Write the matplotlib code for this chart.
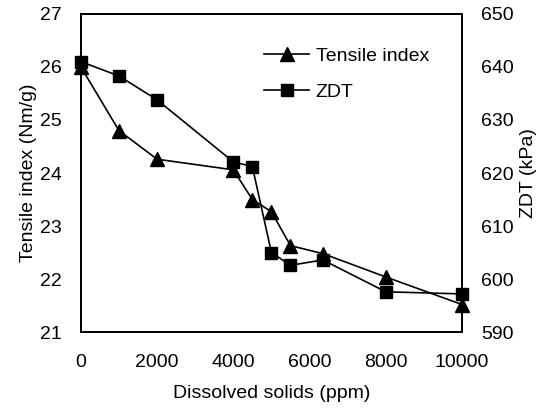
import matplotlib
matplotlib.use("Agg")
import matplotlib.pyplot as plt

# Data
solids = [0, 1000, 2000, 4000, 4500, 5000, 5500, 6350, 8000, 10000]
tensile = [26.0, 24.8, 24.26, 24.06, 23.5, 23.27, 22.63, 22.48, 22.04, 21.52]
zdt = [641.0, 638.3, 633.8, 622.1, 621.2, 605.0, 602.6, 603.6, 597.6, 597.2]

plt.rcParams['font.family'] = ['Liberation Sans', 'DejaVu Sans']
plt.rcParams['font.size'] = 14

fig = plt.figure(figsize=(5.5, 4.09), dpi=100)
ax = fig.add_axes([0.147, 0.188, 0.693, 0.778])
ax2 = ax.twinx()

l1, = ax.plot(solids, tensile, color='black', lw=1.2, marker='^', markersize=10,
              label='Tensile index', clip_on=False, zorder=3)
l2, = ax2.plot(solids, zdt, color='black', lw=1.2, marker='s', markersize=9,
               label='ZDT', clip_on=False, zorder=3)

ax.set_xlim(0, 10000)
ax.set_ylim(21, 27)
ax2.set_ylim(590, 650)
ax.set_xticks([0, 2000, 4000, 6000, 8000, 10000])
ax.set_yticks(range(21, 28))
ax2.set_yticks(range(590, 651, 10))

ax.tick_params(axis='y', length=0, pad=14)
ax.tick_params(axis='x', length=0, pad=16)
ax2.tick_params(axis='y', length=0, pad=14)
for a in (ax, ax2):
    for s in a.spines.values():
        s.set_linewidth(1.3)

ax.set_xlabel('Dissolved solids (ppm)', labelpad=10)
ax.set_ylabel('Tensile index (Nm/g)', labelpad=2)
ax2.set_ylabel('ZDT (kPa)', labelpad=4)

ax.legend(handles=[l1, l2], loc='upper left', bbox_to_anchor=(0.435, 0.95),
          frameon=False, handlelength=2.3, handletextpad=0.35, labelspacing=0.95)

fig.savefig('out.png', dpi=100)
